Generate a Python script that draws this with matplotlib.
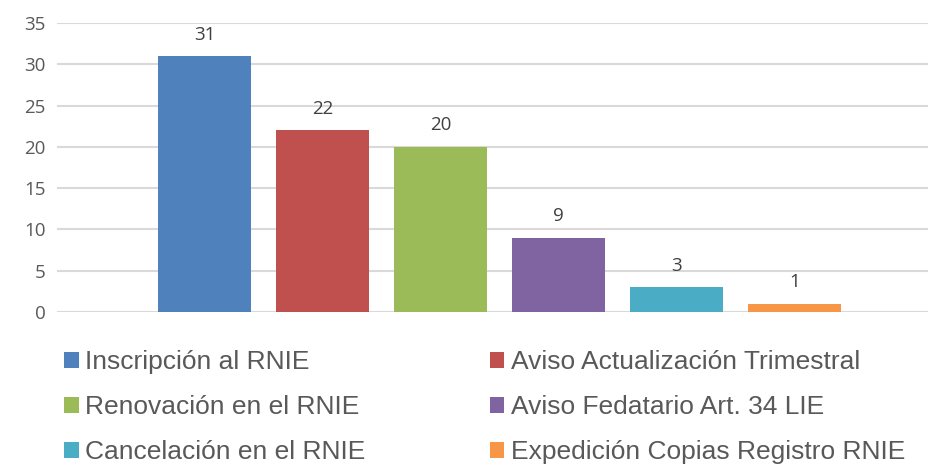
import matplotlib.pyplot as plt
from matplotlib.patches import Patch

# ========= DATA
categories = [
    "Inscripción al RNIE",
    "Aviso Actualización Trimestral",
    "Renovación en el RNIE",
    "Aviso Fedatario Art. 34 LIE",
    "Cancelación en el RNIE",
    "Expedición Copias Registro RNIE",
]
values = [31, 22, 20, 9, 3, 1]
colors = ["#4F81BD", "#C0504D", "#9BBB59", "#8064A2", "#4BACC6", "#F79646"]
y_ticks = [0, 5, 10, 15, 20, 25, 30, 35]

TEXT = "#595959"

fig = plt.figure(figsize=(9.29, 4.66), dpi=100)
ax = fig.add_axes([57 / 929, 154 / 466, 872 / 929, 289 / 466])

x = range(len(values))
bars = ax.bar(x, values, width=0.79, color=colors, zorder=3)

for b, v in zip(bars, values):
    ax.annotate(str(v), (b.get_x() + b.get_width() / 2, v),
                xytext=(0, 9), textcoords="offset points",
                ha="center", va="bottom", fontsize=13.5,
                color="#404040", family="Open Sans")

ax.set_xlim(-1.25, 6.14)
ax.set_ylim(0, 35)
ax.set_yticks(y_ticks)
ax.set_xticks([])
ax.grid(axis="y", color="#D9D9D9", linewidth=1.5, zorder=0)
for s in ax.spines.values():
    s.set_visible(False)
ax.tick_params(axis="y", length=0, pad=8, labelsize=13.5, labelcolor=TEXT)
for lab in ax.get_yticklabels():
    lab.set_family("Open Sans")

# legenda em 2 colunas, preenchida por linha
order = [0, 2, 4, 1, 3, 5]
handles = [Patch(facecolor=colors[i], label=categories[i]) for i in order]
fig.legend(
    handles=handles,
    loc="upper left",
    bbox_to_anchor=(51 / 929, 1 - 337 / 466),
    ncol=2,
    frameon=False,
    prop={"family": "Liberation Sans", "size": 19},
    labelcolor=TEXT,
    handlelength=0.55,
    handleheight=0.55,
    handletextpad=0.25,
    columnspacing=4.7,
    labelspacing=0.80,
    borderpad=0,
)

fig.savefig("out.png", dpi=100)
